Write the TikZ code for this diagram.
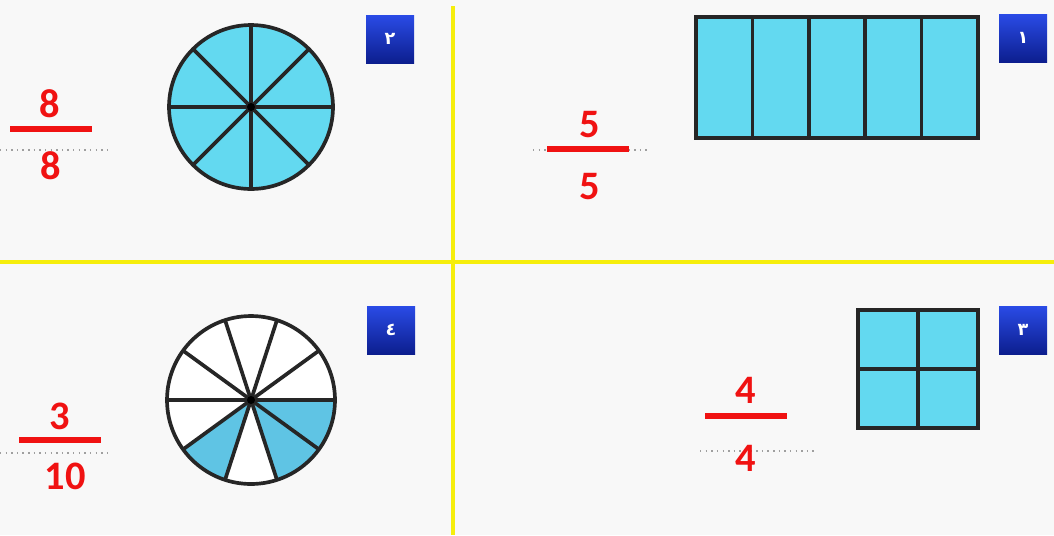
\documentclass[tikz,border=0pt]{standalone}
\usepackage{fontspec}
\newfontfamily\fracfont{Carlito}
\newfontfamily\arabicfont[Script=Arabic]{DejaVu Sans}
\TeXXeTstate=1
\usetikzlibrary{calc, positioning}
\definecolor{paper}{HTML}{F8F8F8}
\definecolor{divider}{HTML}{F6EE0C}
\definecolor{cyanfill}{HTML}{63D9F0}
\definecolor{piece}{HTML}{5FC4E4}
\definecolor{tagblue}{HTML}{2A4BE6}
\definecolor{tagdark}{HTML}{0C1E8E}
\definecolor{fracred}{HTML}{F01212}

\begin{document}
\begin{tikzpicture}[x=0.02cm, y=-0.02cm,
  tag/.style={minimum size=0.96cm, inner sep=0pt, top color=tagblue,
    bottom color=tagdark, text=white, font=\arabicfont\bfseries\normalsize},
  digit/.style={text=fracred, inner sep=0pt,
    font=\fracfont\bfseries\fontsize{23}{23}\selectfont},
  fracbar/.style={fill=fracred, minimum width=1.64cm, minimum height=0.11cm,
    inner sep=0pt},
  dots/.style={gray!75, line width=0.8pt, dash pattern=on 0.8pt off 2.4pt},
  edge/.style={line width=2.1pt, black!85},
  grid/.style={draw, edge, fill=cyanfill, inner sep=0pt, outer sep=0pt}]
  \fill[paper] (0,0) rectangle (1054,535);
  \useasboundingbox (0,0) rectangle (1054,535);
  % dividers
  \draw[divider, line width=2.8pt] (453,6) -- (453,535);
  \draw[divider, line width=2.8pt] (0,262) -- (1054,262);
  % panel 1: strip of five
  \node[tag] (tag1) at (1023,38) {\beginR ١\endR};
  \node[grid, minimum width=5.64cm, minimum height=2.42cm] (strip) at (837,77.5) {};
  \foreach \k in {1,...,4}
    \draw[edge] ($(strip.north west)!\k/5!(strip.north east)$)
      -- ($(strip.south west)!\k/5!(strip.south east)$);
  \draw[dots] (533,150) -- (648,150);
  \node[fracbar] (bar1) at (588,149) {};
  \node[digit] (num1) at (590,125) {5};
  \node[digit] (den1) at (590,187) {5};
  % panel 2: circle of eight
  \node[tag] (tag2) at (390,39) {\beginR ٢\endR};
  \coordinate (c2) at (251,107);
  \draw[edge, fill=cyanfill] (c2) circle[radius=1.64cm];
  \foreach \a in {0,45,...,315}
    \draw[edge] (c2) -- +(\a:1.64cm);
  \fill[black] (c2) circle[radius=0.08cm];
  \draw[dots] (0,150) -- (107,150);
  \node[fracbar] (bar2) at (51,129) {};
  \node[digit] (num2) at (50,104) {8};
  \node[digit] (den2) at (51,166) {8};
  % panel 3: square of four
  \node[tag] (tag3) at (1023,330) {\beginR ٣\endR};
  \node[grid, minimum width=2.4cm, minimum height=2.36cm] (square) at (918,369) {};
  \draw[edge] (square.north) -- (square.south);
  \draw[edge] (square.west) -- (square.east);
  \draw[dots] (700,451) -- (817,451);
  \node[fracbar] (bar3) at (746,416) {};
  \node[digit] (num3) at (746,390) {4};
  \node[digit] (den3) at (746,458) {4};
  % panel 4: circle of ten, three shaded
  \node[tag] (tag4) at (391,330) {\beginR ٤\endR};
  \coordinate (c4) at (251,400);
  \fill[white] (c4) circle[radius=1.68cm];
  \foreach \a/\b in {0/-36, -36/-72, -108/-144}
    \fill[piece] (c4) -- +(\a:1.68cm) arc[start angle=\a, end angle=\b,
      radius=1.68cm] -- cycle;
  \draw[edge] (c4) circle[radius=1.68cm];
  \foreach \a in {0,36,...,324}
    \draw[edge] (c4) -- +(\a:1.68cm);
  \fill[black] (c4) circle[radius=0.08cm];
  \draw[dots] (0,453) -- (107,453);
  \node[fracbar] (bar4) at (60,440) {};
  \node[digit] (num4) at (60,416) {3};
  \node[digit] (den4) at (65,476) {10};
\end{tikzpicture}
\end{document}
